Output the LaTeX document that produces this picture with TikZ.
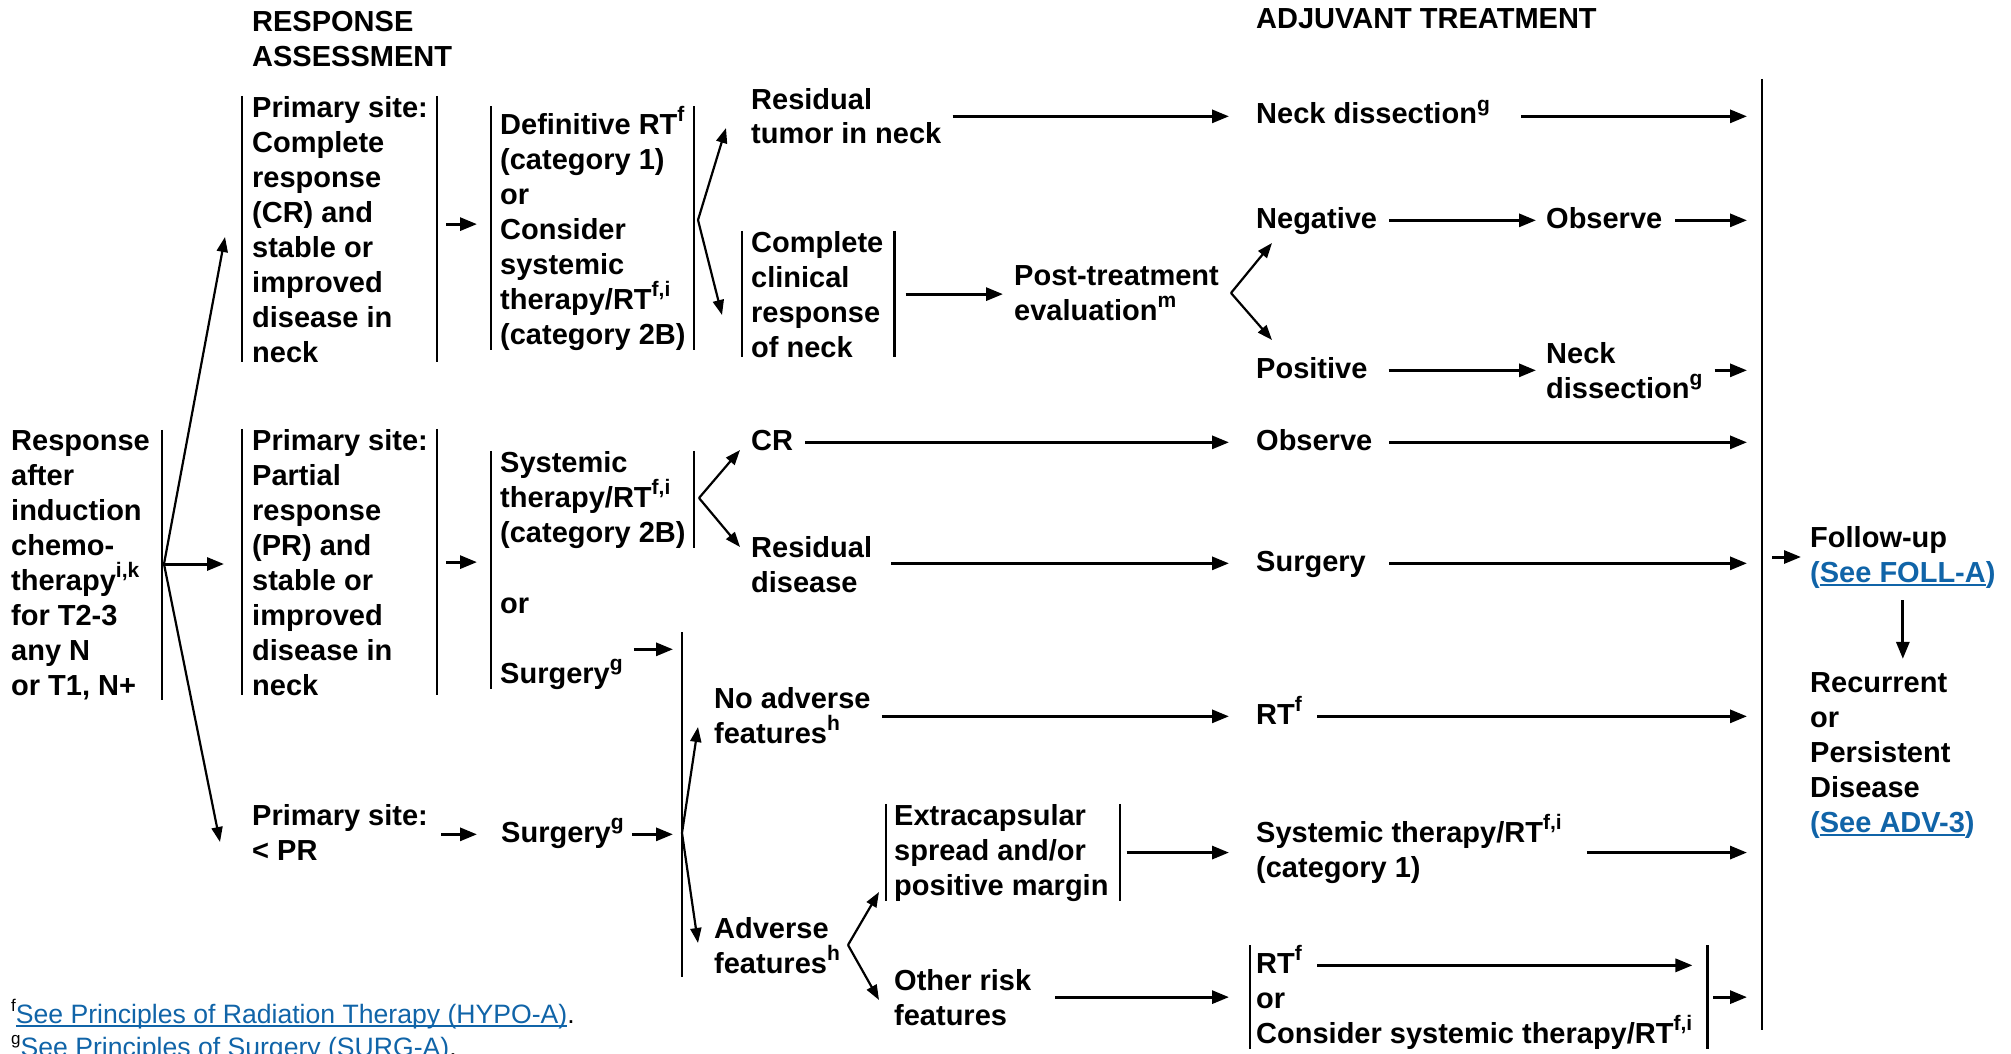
\documentclass[tikz,border=0pt]{standalone}
\usepackage{fontspec}
\setmainfont{Liberation Sans}
\usetikzlibrary{arrows.meta,calc}
\definecolor{linkblue}{RGB}{16,100,168}
% raised reference letters
\newcommand\sps[1]{\raisebox{0.42em}{\fontsize{21}{21}\selectfont #1}}
% underlined link text
\newsavebox\lnkbox
\newcommand\lnk[1]{\sbox\lnkbox{#1}\rlap{\rule[-3.5pt]{\wd\lnkbox}{1.8pt}}\usebox\lnkbox}

\begin{document}
% the picture font is set outside too, so that 'mid' anchors use its x-height
\fontsize{29}{35}\selectfont\bfseries
% multi-line nodes are placed by the baseline of their last line
\begin{tikzpicture}[x=1pt,y=-1pt,
  every node/.style={inner sep=0pt,anchor=base west,align=left,
    font=\fontsize{29}{35}\selectfont\bfseries},
  bar/.style={line width=2.2pt},
  lbar/.style={append after command={([xshift=-#1]\tikzlastnode.north west) edge[bar] ([xshift=-#1]\tikzlastnode.south west)}},
  rbar/.style={append after command={([xshift=#1]\tikzlastnode.north east) edge[bar] ([xshift=#1]\tikzlastnode.south east)}},
  arr/.style={line width=3pt,-{Triangle[length=17pt,width=13pt]}},
  fan/.style={line width=2.2pt,-{Triangle[length=15pt,width=11pt]}},
  note/.style={font=\fontsize{26.6}{33}\selectfont\mdseries}]
\useasboundingbox (0,0) rectangle (2011,1054);

% headings
\node (hA) at (252,67) {RESPONSE\\ASSESSMENT};
\node (hB) at (1256,29) {ADJUVANT TREATMENT};

% starting point
\node[rbar=12pt] (ind) at (11,695) {Response\\after\\induction\\chemo-\\therapy\sps{i,k}\\for T2-3\\any N\\or T1, N+};

% response assessment
\node[lbar=10pt,rbar=9pt] (b1) at (252,362) {Primary site:\\Complete\\response\\(CR) and\\stable or\\improved\\disease in\\neck};
\node[lbar=10pt,rbar=9pt] (b2) at (252,695) {Primary site:\\Partial\\response\\(PR) and\\stable or\\improved\\disease in\\neck};
\node (b3) at (252,860) {Primary site:\\< PR};

% primary treatment
\node[lbar=9pt,rbar=8pt] (c1) at (500,344) {Definitive RT\sps{f}\\(category 1)\\or\\Consider\\systemic\\therapy/RT\sps{f,i}\\(category 2B)};
\node[rbar=8pt] (sys) at (500,542) {Systemic\\therapy/RT\sps{f,i}\\(category 2B)};
\node (or1) at (500,613) {or};
\node (surgA) at (500,683) {Surgery\sps{g}};
\node (surgB) at (501,842) {Surgery\sps{g}};

% outcomes
\node (resid) at (751,144) {Residual\\tumor in neck};
\node[lbar=9pt,rbar=11pt] (ccr) at (751,357) {Complete\\clinical\\response\\of neck};
\node (post) at (1014,320) {Post-treatment\\evaluation\sps{m}};
\node (cr) at (751,450) {CR};
\node (resd) at (751,592) {Residual\\disease};
\node (noadv) at (714,743) {No adverse\\features\sps{h}};
\node (adv) at (714,973) {Adverse\\features\sps{h}};
\node[lbar=8pt,rbar=11pt] (ece) at (894,895) {Extracapsular\\spread and/or\\positive margin};
\node (orf) at (894,1025) {Other risk\\features};

% adjuvant treatment
\node (nd1) at (1256,124) {Neck dissection\sps{g}};
\node (neg) at (1256,228) {Negative};
\node (pos) at (1256,378) {Positive};
\node (obs1) at (1546,228) {Observe};
\node (nd2) at (1546,398) {Neck\\dissection\sps{g}};
\node (obs2) at (1256,450) {Observe};
\node (surgC) at (1256,571) {Surgery};
\node (rt1) at (1256,724) {RT\sps{f}};
\node (sys1) at (1256,877) {Systemic therapy/RT\sps{f,i}\\(category 1)};
\node (finRT) at (1256,973) {RT\sps{f}};
\node (finOr) at (1256,1008) {or};
\node (finCon) at (1256,1043) {Consider systemic therapy/RT\sps{f,i}};

% follow-up
\node (fu) at (1810,582) {Follow-up\\\textcolor{linkblue}{(\lnk{See FOLL-A})}};
\node (rec) at (1810,832) {Recurrent\\or\\Persistent\\Disease\\\textcolor{linkblue}{(\lnk{See ADV-3})}};

% footnotes
\node[note] (fn1) at (11,1023) {\raisebox{0.42em}{\fontsize{17}{17}\selectfont f}\textcolor{linkblue}{\lnk{See Principles of Radiation Therapy (HYPO-A)}}.};
\node[note] (fn2) at (11,1056) {\raisebox{0.42em}{\fontsize{17}{17}\selectfont g}\textcolor{linkblue}{\lnk{See Principles of Surgery (SURG-A)}}.};

% fixed points
\coordinate (endx) at (1747,0);
\coordinate (vlT) at (1762,79);
\coordinate (vlB) at (1762,1030);
\coordinate (indA) at (164,564);
\coordinate (tB1) at (225,237);
\coordinate (tB3) at (220,842);
\coordinate (c1A) at (698,220);
\coordinate (tRes) at (726,128);
\coordinate (tCcr) at (722,315);
\coordinate (sysA) at (699,498);
\coordinate (tCR) at (740,450);
\coordinate (tRsd) at (740,547);
\coordinate (fanT) at (682,632);
\coordinate (fanS) at (682,833);
\coordinate (fanB) at (682,977);
\coordinate (tNo) at (698,727);
\coordinate (tAdv) at (698,943);
\coordinate (advA) at (848,945);
\coordinate (tEce) at (879,892);
\coordinate (tOth) at (879,1000);
\coordinate (postA) at (1231,293);
\coordinate (tNeg) at (1272,243);
\coordinate (tPos) at (1272,340);
\coordinate (b1o) at ($(b1.east)+(0,5pt)$);

% brackets
\draw[bar] (vlT) -- (vlB);
\draw[bar] (fanT) -- (fanB);
\draw[bar] ($(sys.north west)+(-9pt,0)$) -- ($(sys.west |- surgA.south)+(-9pt,0)$);
\draw[bar] ($(finRT.north west)+(-6pt,0)$) -- ($(finRT.west |- finCon.south)+(-6pt,0)$);
\draw[bar] ($(finCon.east |- finRT.north)+(15pt,0)$) -- ($(finCon.south east)+(15pt,0)$);

% from the starting point
\draw[fan] (indA) -- (tB1);
\draw[arr,shorten >=28pt] (indA) -- (indA -| b2.west);
\draw[fan] (indA) -- (tB3);

% assessment to primary treatment
\draw[arr,shorten <=18pt,shorten >=23pt] (b1o) -- (b1o -| c1.west);
\draw[arr,shorten <=18pt,shorten >=23pt] (b2.east) -- (b2.east -| sys.west);
\draw[arr,shorten <=13pt,shorten >=24pt] (surgB.mid -| b3.east) -- (surgB.mid west);

% branches
\draw[fan] (c1A) -- (tRes);
\draw[fan] (c1A) -- (tCcr);
\draw[fan] (sysA) -- (tCR);
\draw[fan] (sysA) -- (tRsd);
\draw[fan] (fanS) -- (tNo);
\draw[fan] (fanS) -- (tAdv);
\draw[fan] (advA) -- (tEce);
\draw[fan] (advA) -- (tOth);
\draw[fan] (postA) -- (tNeg);
\draw[fan] (postA) -- (tPos);

% surgery into the bracket
\coordinate (sa) at ($(surgA.north east)+(11pt,10pt)$);
\draw[arr,shorten >=9pt] (sa) -- (sa -| fanS);
\draw[arr,shorten <=8pt,shorten >=9pt] (surgB.mid east) -- (surgB.mid -| fanS);

% outcomes to adjuvant treatment
\draw[arr,shorten <=11pt,shorten >=27pt] (nd1.mid -| resid.east) -- (nd1.mid west);
\draw[arr,shorten <=22pt,shorten >=11pt] (ccr.east) -- (ccr.east -| post.west);
\draw[arr,shorten <=12pt,shorten >=27pt] (cr.mid east) -- (cr.mid -| obs2.west);
\draw[arr,shorten <=19pt,shorten >=27pt] (surgC.mid -| resd.east) -- (surgC.mid west);
\draw[arr,shorten <=11pt,shorten >=27pt] (rt1.mid -| noadv.east) -- (rt1.mid west);
\draw[arr,shorten <=18pt,shorten >=27pt] (ece.east) -- (ece.east -| sys1.west);
\draw[arr,shorten <=24pt,shorten >=27pt] (orf.east) -- (orf.east -| finRT.west);
\draw[arr,shorten <=12pt,shorten >=10pt] (neg.mid east) -- (neg.mid -| obs1.west);
\draw[arr,shorten <=21pt,shorten >=10pt] (pos.mid east) -- (pos.mid -| nd2.west);

% into the follow-up bracket
\draw[arr,shorten <=31pt] (nd1.mid east) -- (nd1.mid -| endx);
\draw[arr,shorten <=13pt] (obs1.mid east) -- (obs1.mid -| endx);
\draw[arr,shorten <=12pt] (pos.mid -| nd2.east) -- (pos.mid -| endx);
\draw[arr,shorten <=17pt] (obs2.mid east) -- (obs2.mid -| endx);
\draw[arr,shorten <=23pt] (surgC.mid east) -- (surgC.mid -| endx);
\draw[arr,shorten <=15pt] (rt1.mid east) -- (rt1.mid -| endx);
\draw[arr,shorten <=25pt] (ece.east -| sys1.east) -- (ece.east -| endx);
\draw[arr,shorten <=15pt] (finRT.mid east) -- (finRT.mid -| finCon.east);
\draw[arr,shorten <=21pt] (orf.east -| finCon.east) -- (orf.east -| endx);

% follow-up
\draw[arr,shorten <=10pt,shorten >=9pt] (fu.west -| vlT) -- (fu.west);
\draw[arr,shorten <=12pt,shorten >=13pt] (fu.south) -- (fu.south |- rec.north);
\end{tikzpicture}
\end{document}
